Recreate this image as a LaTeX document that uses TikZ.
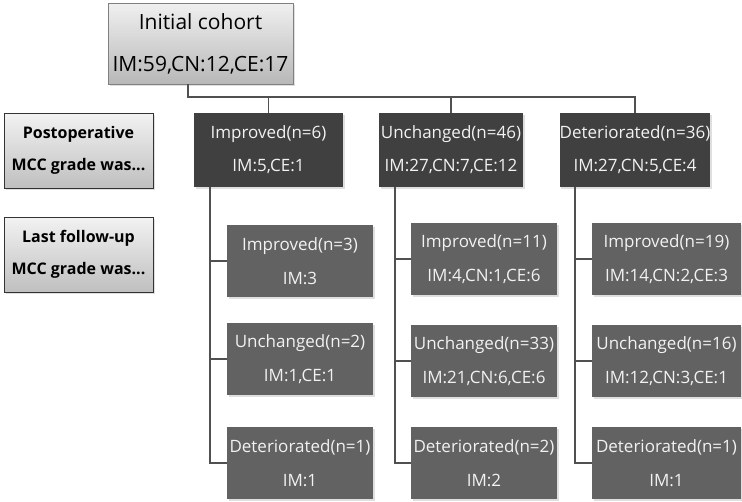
\documentclass[tikz,border=0pt]{standalone}
\usepackage{fontspec}
\setmainfont{Open Sans}
\usetikzlibrary{shadows}
\definecolor{topfill}{RGB}{64,64,64}
\definecolor{childfill}{RGB}{98,98,98}
\definecolor{txt}{RGB}{242,242,242}
\definecolor{linecol}{RGB}{80,80,80}
\begin{document}
\begin{tikzpicture}[x=1pt,y=-1pt,
  shad/.style={drop shadow={shadow xshift=1.5pt,shadow yshift=-1.5pt,opacity=0.25}},
  topbox/.style={rectangle,fill=topfill,text=txt,align=center,shad,
    minimum height=74pt,inner sep=0pt,font=\fontsize{17}{33}\selectfont},
  childbox/.style={rectangle,fill=childfill,text=txt,align=center,shad,
    minimum width=146pt,minimum height=72pt,inner sep=0pt,font=\fontsize{17}{34}\selectfont},
  labelbox/.style={rectangle,draw=black!80,line width=0.8pt,top color=black!5,bottom color=black!25,
    align=center,shad,minimum width=149pt,minimum height=75pt,inner sep=0pt,
    font=\bfseries\fontsize{16}{32}\selectfont},
  initbox/.style={rectangle,draw=black!50,line width=0.8pt,top color=black!6,bottom color=black!28,
    align=center,shad,minimum width=185pt,minimum height=81pt,inner sep=0pt,
    font=\fontsize{21}{42}\selectfont},
  conn/.style={draw=linecol,line width=1.8pt}]
\useasboundingbox (0,0) rectangle (742,501);

\node[initbox] (init) at (200.5,43.5) {Initial cohort\\IM:59,CN:12,CE:17};

\node[labelbox] (lab1) at (78.5,150.5) {Postoperative\\MCC grade was...};
\node[labelbox] (lab2) at (78.5,254.5) {Last follow-up\\MCC grade was...};

\node[topbox,minimum width=149pt] (p1) at (268.5,150) {Improved(n=6)\\IM:5,CE:1};
\node[topbox,minimum width=144pt] (p2) at (451,150) {Unchanged(n=46)\\IM:27,CN:7,CE:12};
\node[topbox,minimum width=150pt] (p3) at (635,150) {Deteriorated(n=36)\\IM:27,CN:5,CE:4};

\node[childbox] (c11) at (300,261) {Improved(n=3)\\IM:3};
\node[childbox] (c12) at (300,359) {Unchanged(n=2)\\IM:1,CE:1};
\node[childbox] (c13) at (300,463) {Deteriorated(n=1)\\IM:1};

\node[childbox] (c21) at (484,259) {Improved(n=11)\\IM:4,CN:1,CE:6};
\node[childbox] (c22) at (484,361) {Unchanged(n=33)\\IM:21,CN:6,CE:6};
\node[childbox] (c23) at (484,463) {Deteriorated(n=2)\\IM:2};

\node[childbox,minimum width=149pt] (c31) at (666.5,259) {Improved(n=19)\\IM:14,CN:2,CE:3};
\node[childbox,minimum width=149pt] (c32) at (666.5,361) {Unchanged(n=16)\\IM:12,CN:3,CE:1};
\node[childbox,minimum width=149pt] (c33) at (666.5,463) {Deteriorated(n=1)\\IM:1};

\coordinate (j0) at (188,97);
\coordinate (t1) at (210,0);
\coordinate (t2) at (395,0);
\coordinate (t3) at (575,0);

\draw[conn] (init.south -| j0) -- (j0) -| (p3.north);
\draw[conn] (j0 -| p1.north) -- (p1.north);
\draw[conn] (j0 -| p2.north) -- (p2.north);

\draw[conn] (p1.south -| t1) |- (c13.west);
\draw[conn] (c11.west -| t1) -- (c11.west);
\draw[conn] (c12.west -| t1) -- (c12.west);

\draw[conn] (p2.south -| t2) |- (c23.west);
\draw[conn] (c21.west -| t2) -- (c21.west);
\draw[conn] (c22.west -| t2) -- (c22.west);

\draw[conn] (p3.south -| t3) |- (c33.west);
\draw[conn] (c31.west -| t3) -- (c31.west);
\draw[conn] (c32.west -| t3) -- (c32.west);
\end{tikzpicture}
\end{document}
